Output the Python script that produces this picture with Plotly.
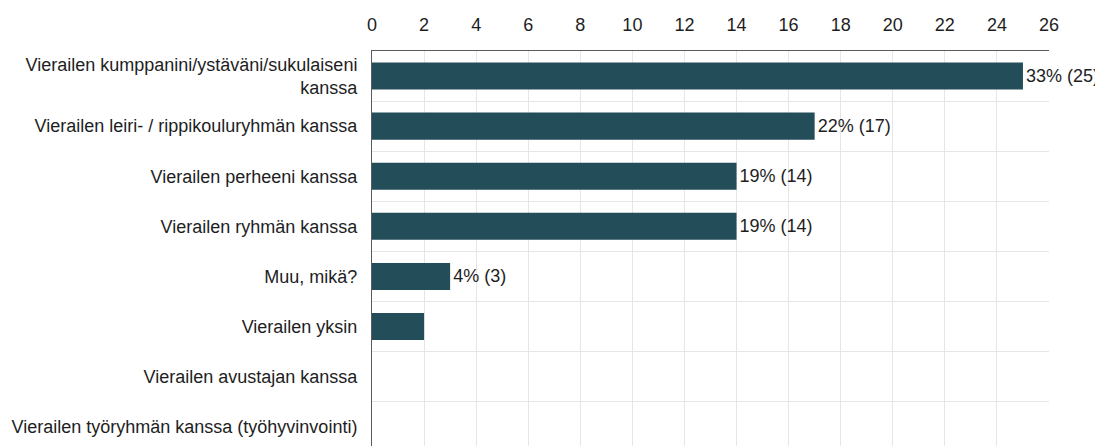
import plotly.graph_objects as go

categories = [
    "Vierailen kumppanini/ystäväni/sukulaiseni<br>kanssa",
    "Vierailen leiri- / rippikouluryhmän kanssa",
    "Vierailen perheeni kanssa",
    "Vierailen ryhmän kanssa",
    "Muu, mikä?",
    "Vierailen yksin",
    "Vierailen avustajan kanssa",
    "Vierailen työryhmän kanssa (työhyvinvointi)",
]
counts = [25, 17, 14, 14, 3, 2, 0, 0]
labels = ["33% (25)", "22% (17)", "19% (14)", "19% (14)", "4% (3)", "", "", ""]
x_ticks = list(range(0, 27, 2))

positions = list(range(len(categories)))
font_family = "Liberation Sans, Arial, sans-serif"
text_color = "#1e1e1e"
fs = 18

fig = go.Figure(
    go.Bar(
        x=counts,
        y=positions,
        orientation="h",
        width=0.54,
        marker=dict(color="#244d5a", line=dict(width=0)),
        text=labels,
        textposition="outside",
        textfont=dict(size=fs, color=text_color, family=font_family),
        cliponaxis=False,
        hoverinfo="skip",
    )
)

fig.update_layout(
    width=1095,
    height=438,
    margin=dict(l=364, r=54, t=43, b=0),
    paper_bgcolor="white",
    plot_bgcolor="white",
    showlegend=False,
    font=dict(family=font_family, size=fs, color=text_color),
    xaxis=dict(
        side="top",
        range=[0, 26],
        tickvals=x_ticks,
        ticktext=[str(v) for v in x_ticks],
        showgrid=True,
        gridcolor="#e6e6e6",
        gridwidth=1,
        zeroline=False,
        showline=True,
        linecolor="#5a5a5a",
        linewidth=1,
        ticks="",
        ticklabelstandoff=12,
        tickfont=dict(size=fs, color=text_color),
        fixedrange=True,
    ),
    yaxis=dict(
        range=[7.386, -0.5],
        tickvals=positions,
        ticktext=categories,
        showgrid=False,
        zeroline=False,
        showline=True,
        linecolor="#5a5a5a",
        linewidth=1,
        ticks="",
        ticklabelstandoff=10,
        tickfont=dict(size=fs, color=text_color),
        minor=dict(
            tickvals=[p + 0.5 for p in positions],
            showgrid=True,
            gridcolor="#e6e6e6",
            gridwidth=1,
            ticks="",
        ),
        fixedrange=True,
    ),
    bargap=0.46,
)

fig.write_html("out.html")
